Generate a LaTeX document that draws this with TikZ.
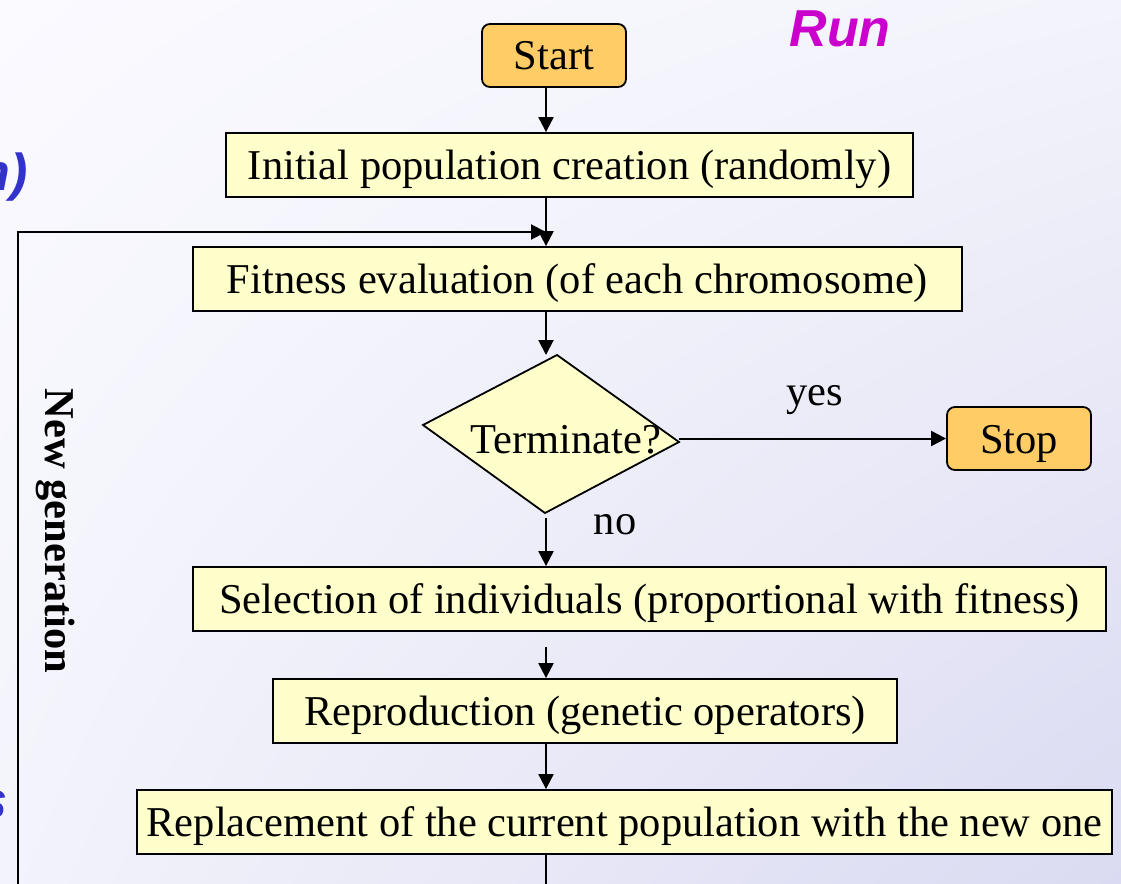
\documentclass[tikz,border=0pt]{standalone}
\usepackage{fontspec}
\setmainfont{Liberation Serif}
\newfontfamily\headfont{Liberation Sans}
\usetikzlibrary{arrows.meta,shadings}
\definecolor{boxfill}{HTML}{FFFFCC}
\definecolor{termfill}{HTML}{FFCC66}
\definecolor{runcol}{HTML}{CC00CC}
\definecolor{notecol}{HTML}{3333CC}
\definecolor{bgA}{HTML}{FAFAFF}
\definecolor{bgB}{HTML}{F3F3FB}
\definecolor{bgC}{HTML}{DADAF2}
\tikzset{
  bodyfont/.style={font=\fontsize{42.5}{50}\selectfont},
  stepbox/.style={draw, line width=1.8pt, fill=boxfill, bodyfont,
    minimum height=64pt, inner sep=0pt, text height=37pt, text depth=8pt},
  termbox/.style={stepbox, fill=termfill, rounded corners=8pt, minimum width=144pt, minimum height=63pt},
  flow/.style={line width=2pt, -{Triangle[length=15pt,width=15pt]}},
  plain/.style={line width=2pt},
  note/.style={font=\headfont\bfseries\itshape\fontsize{52}{60}\selectfont, text=notecol, inner sep=0pt}
}
\begin{document}
\begin{tikzpicture}[x=1pt,y=-1pt]
  \useasboundingbox (0,0) rectangle (1121,883);
  \shade[upper left=bgA, upper right=bgB, lower left=bgB, lower right=bgC]
    (0,0) rectangle (1121,883);

  % main column of the flow
  \coordinate (colx) at (546,0);

  \node[termbox] (start) at (554,55.5) {Start};
  \node[stepbox, minimum width=687pt] (init) at (569.5,165) {Initial population creation (randomly)};
  \node[stepbox, minimum width=769pt] (fit) at (577.5,279) {Fitness evaluation (of each chromosome)};

  % decision
  \coordinate (dT) at (557,355);
  \coordinate (dR) at (679,442);
  \coordinate (dB) at (545,513);
  \coordinate (dL) at (423,425);
  \draw[line width=1.8pt, fill=boxfill, line join=miter] (dT) -- (dR) -- (dB) -- (dL) -- cycle;
  \node[bodyfont, inner sep=0pt, anchor=base] (term) at (566,453) {Terminate?};

  \node[termbox] (stop) at (1019,438.5) {Stop};
  \node[stepbox, minimum width=913pt] (sel) at (649.5,599) {Selection of individuals (proportional with fitness)};
  \node[stepbox, minimum width=624pt] (repro) at (585,711) {Reproduction (genetic operators)};
  \node[stepbox, minimum width=975pt] (repl) at (624.5,822) {Replacement of the current population with the new one};

  % connectors
  \draw[flow] (start.south -| colx) -- (init.north -| colx);
  \draw[flow] (init.south -| colx) -- (fit.north -| colx);
  \draw[flow] (fit.south -| colx) -- (colx |- dT);
  \draw[flow] (dR |- stop) -- (stop.west);
  \draw[flow, shorten <=5pt] (colx |- dB) -- (sel.north -| colx);
  \draw[flow, shorten <=15pt] (sel.south -| colx) -- (repro.north -| colx);
  \draw[flow] (repro.south -| colx) -- (repl.north -| colx);

  % loop back to the fitness evaluation
  \coordinate (outB) at (546,890);
  \coordinate (loopB) at (18,890);
  \coordinate (loopT) at (18,232);
  \draw[plain] (repl.south -| colx) -- (outB);
  \draw[flow] (loopB) -- (loopT) -- (loopT -| colx);

  % labels
  \node[bodyfont, inner sep=0pt, anchor=base] (yes) at (815,405) {yes};
  \node[bodyfont, inner sep=0pt, anchor=base] (no) at (615,534) {no};
  \node[bodyfont, font=\bfseries\fontsize{42.5}{50}\selectfont, inner sep=0pt, rotate=-90, anchor=base] (newgen) at (45,531) {New generation};

  \node[note, text=runcol, anchor=base] (run) at (840,47) {Run};
  \node[note, anchor=base east] (noteA) at (28,190) {n)};
  \node[note, anchor=base east] (noteB) at (8,818) {s};
\end{tikzpicture}
\end{document}
